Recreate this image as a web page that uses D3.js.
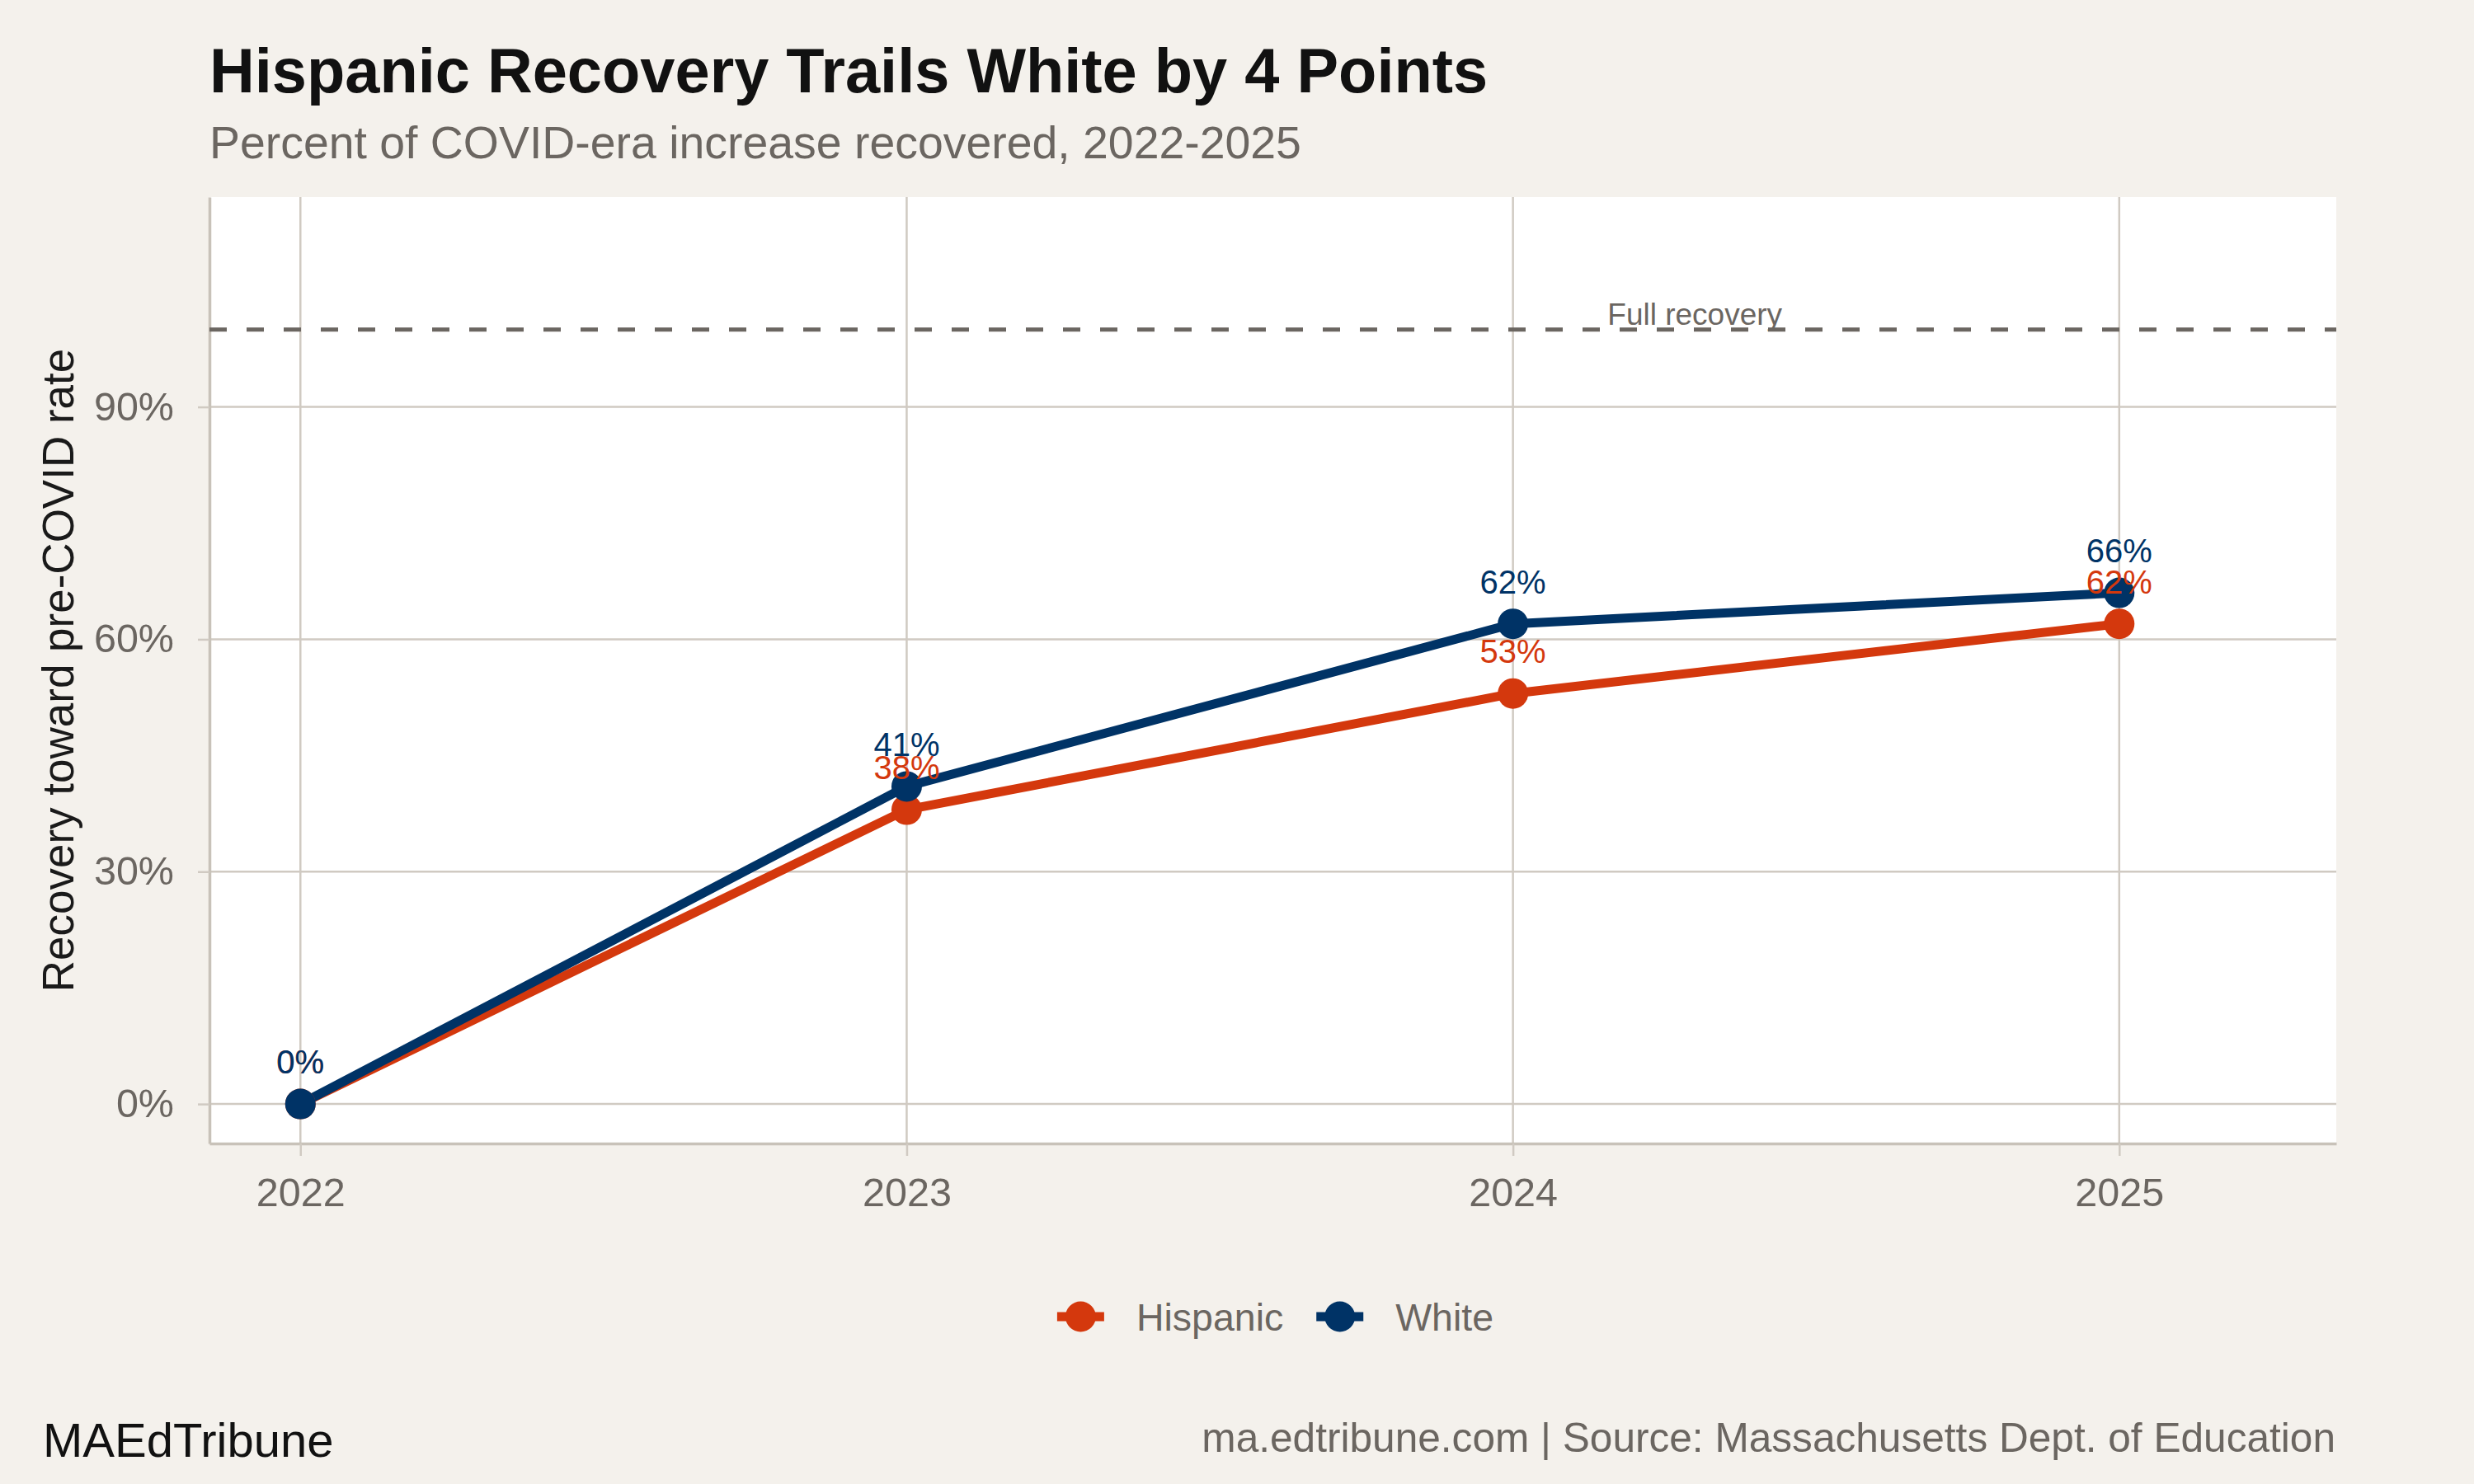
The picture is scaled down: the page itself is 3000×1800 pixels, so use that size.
<!DOCTYPE html>
<html>

<head>
    <meta charset="utf-8">
    <script src="https://d3js.org/d3.v7.min.js"></script>
    <style>
        body { margin: 0; background: #F4F1EC; }
        text { font-family: "Liberation Sans", Arial, Helvetica, sans-serif; }
    </style>
</head>

<body>
    <script>
        // data
        const years = [2022, 2023, 2024, 2025];
        const hispanic = [0, 38, 53, 62];
        const white = [0, 41, 62, 66];
        const seriesNames = ["Hispanic", "White"];
        const yTicks = [0, 30, 60, 90];
        const fullRecovery = 100;
        const fullRecoveryLabel = "Full recovery";
        const fullRecoveryLabelYear = 2024.3;

        const colors = { "Hispanic": "#D4380D", "White": "#003366" };
        const grey = "#6B6661";
        const gridColor = "#D0CAC2";
        const axisColor = "#C8C2B9";

        let width = 3000,
            height = 1800;

        let svg = d3.select("body").append("svg")
            .attr("width", width)
            .attr("height", height);

        svg.append("rect")
            .attr("width", width)
            .attr("height", height)
            .attr("fill", "#F4F1EC");

        // panel
        let panel = { left: 254, right: 2833, top: 239, bottom: 1387 };

        let x = d3.scaleLinear()
            .domain([2021.85, 2025.358])
            .range([panel.left, panel.right]);

        let y = d3.scaleLinear()
            .domain([-5.1, 117.1])
            .range([panel.bottom, panel.top]);

        svg.append("rect")
            .attr("x", panel.left)
            .attr("y", panel.top)
            .attr("width", panel.right - panel.left)
            .attr("height", panel.bottom - panel.top)
            .attr("fill", "white");

        // grid
        svg.append("g")
            .selectAll("line")
            .data(yTicks)
            .join("line")
                .attr("x1", panel.left)
                .attr("x2", panel.right)
                .attr("y1", d => y(d))
                .attr("y2", d => y(d))
                .attr("stroke", gridColor)
                .attr("stroke-width", 2.5);

        svg.append("g")
            .selectAll("line")
            .data(years)
            .join("line")
                .attr("x1", d => x(d))
                .attr("x2", d => x(d))
                .attr("y1", panel.top)
                .attr("y2", panel.bottom)
                .attr("stroke", gridColor)
                .attr("stroke-width", 2.5);

        // axes
        let yAxis = svg.append("g")
            .attr("transform", `translate(${panel.left},0)`)
            .call(d3.axisLeft(y)
                .tickValues(yTicks)
                .tickFormat(d => d + "%")
                .tickSizeInner(14)
                .tickSizeOuter(0)
                .tickPadding(29));

        let xAxis = svg.append("g")
            .attr("transform", `translate(0,${panel.bottom})`)
            .call(d3.axisBottom(x)
                .tickValues(years)
                .tickFormat(d3.format("d"))
                .tickSizeInner(15)
                .tickSizeOuter(0)
                .tickPadding(27));

        [yAxis, xAxis].forEach(a => {
            a.select(".domain").attr("stroke", axisColor).attr("stroke-width", 3.5);
            a.selectAll(".tick line").attr("stroke", gridColor).attr("stroke-width", 2.5);
            a.selectAll(".tick text")
                .attr("fill", grey)
                .attr("font-size", "48.5px")
                .style("font-family", "'Liberation Sans', Arial, sans-serif");
        });

        // full recovery reference
        svg.append("line")
            .attr("x1", panel.left)
            .attr("x2", panel.right)
            .attr("y1", y(fullRecovery))
            .attr("y2", y(fullRecovery))
            .attr("stroke", "#6B6661")
            .attr("stroke-width", 5)
            .attr("stroke-dasharray", "21,24");

        svg.append("text")
            .text(fullRecoveryLabel)
            .attr("x", x(fullRecoveryLabelYear))
            .attr("y", y(fullRecovery) - 6)
            .attr("text-anchor", "middle")
            .attr("font-size", "37px")
            .attr("fill", grey);

        // series
        let series = seriesNames.map(name => ({
            name: name,
            values: (name === "Hispanic" ? hispanic : white).map((v, i) => ({ year: years[i], value: v }))
        }));

        let line = d3.line()
            .x(d => x(d.year))
            .y(d => y(d.value));

        svg.append("g")
            .selectAll("path")
            .data(series)
            .join("path")
                .attr("d", d => line(d.values))
                .attr("fill", "none")
                .attr("stroke", d => colors[d.name])
                .attr("stroke-width", 11)
                .attr("stroke-linejoin", "round");

        svg.append("g")
            .selectAll("g")
            .data(series)
            .join("g")
                .selectAll("circle")
                .data(d => d.values.map(v => ({ ...v, name: d.name })))
                .join("circle")
                    .attr("cx", d => x(d.year))
                    .attr("cy", d => y(d.value))
                    .attr("r", 18.5)
                    .attr("fill", d => colors[d.name]);

        svg.append("g")
            .selectAll("g")
            .data(series)
            .join("g")
                .selectAll("text")
                .data(d => d.values.map(v => ({ ...v, name: d.name })))
                .join("text")
                    .text(d => d.value + "%")
                    .attr("x", d => x(d.year))
                    .attr("y", d => y(d.value) - 37)
                    .attr("text-anchor", "middle")
                    .attr("font-size", "40px")
                    .attr("fill", d => colors[d.name]);

        // titles
        svg.append("text")
            .text("Hispanic Recovery Trails White by 4 Points")
            .attr("x", 254)
            .attr("y", 112)
            .attr("font-size", "75.8px")
            .attr("font-weight", "bold")
            .attr("fill", "#111111");

        svg.append("text")
            .text("Percent of COVID-era increase recovered, 2022-2025")
            .attr("x", 254)
            .attr("y", 192)
            .attr("font-size", "55.4px")
            .attr("fill", grey);

        svg.append("text")
            .text("Recovery toward pre-COVID rate")
            .attr("transform", `translate(89,${(panel.top + panel.bottom) / 2}) rotate(-90)`)
            .attr("text-anchor", "middle")
            .attr("font-size", "53px")
            .attr("fill", "#1A1A1A");

        // legend
        let legend = svg.append("g");
        let lx = 0;
        seriesNames.forEach((name, i) => {
            let item = legend.append("g").attr("transform", `translate(${lx},0)`);
            item.append("line")
                .attr("x1", 0).attr("x2", 57)
                .attr("y1", 0).attr("y2", 0)
                .attr("stroke", colors[name])
                .attr("stroke-width", 11);
            item.append("circle")
                .attr("cx", 28.5).attr("cy", 0)
                .attr("r", 18.5)
                .attr("fill", colors[name]);
            let t = item.append("text")
                .text(name)
                .attr("x", 96)
                .attr("y", 16.5)
                .attr("font-size", "46.5px")
                .attr("fill", grey);
            lx += 96 + t.node().getComputedTextLength() + 40;
        });
        let legendWidth = lx - 40;
        legend.attr("transform", `translate(${(panel.left + panel.right) / 2 - legendWidth / 2 + 3},1597)`);

        // footer
        svg.append("text")
            .text("MAEdTribune")
            .attr("x", 52)
            .attr("y", 1767)
            .attr("font-size", "58px")
            .attr("fill", "#111111");

        svg.append("text")
            .text("ma.edtribune.com | Source: Massachusetts Dept. of Education")
            .attr("x", 2832)
            .attr("y", 1761)
            .attr("text-anchor", "end")
            .attr("font-size", "49.6px")
            .attr("fill", grey);
    </script>
</body>

</html>
